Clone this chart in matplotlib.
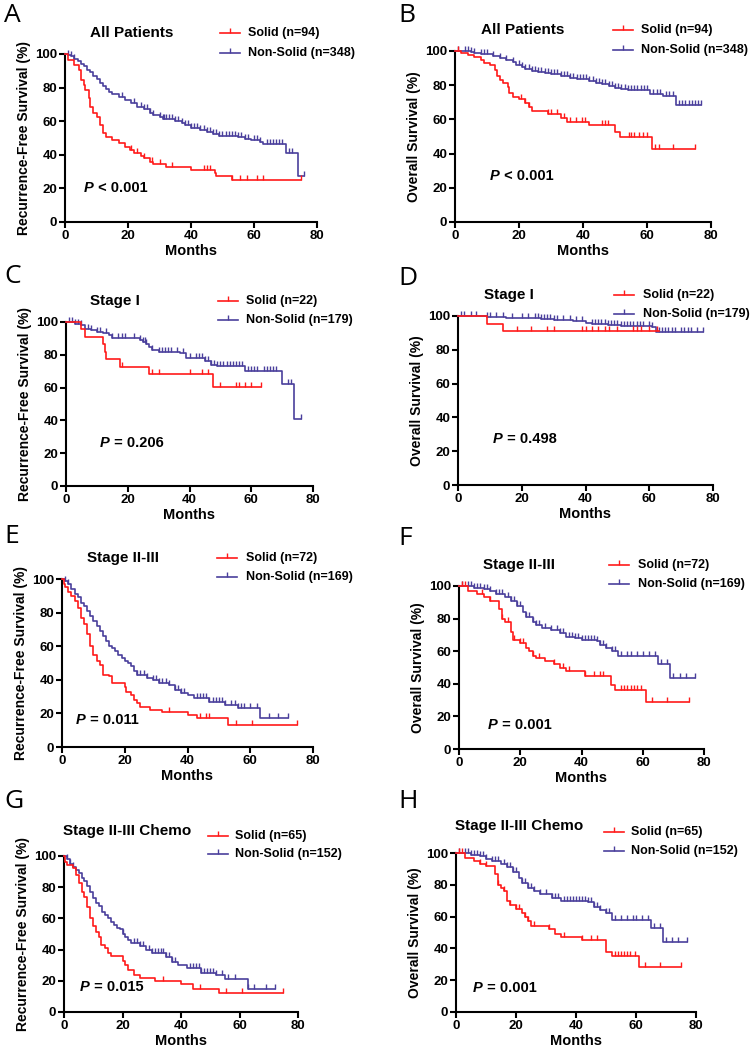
import matplotlib

matplotlib.use("Agg")
import matplotlib.pyplot as plt
import numpy as np
from matplotlib.lines import Line2D
from matplotlib.markers import TICKUP

W, H = 753, 1052
RED = "#ff1a1a"
BLUE = "#4a3f9c"

plt.rcParams["font.family"] = ["Liberation Sans", "DejaVu Sans"]
plt.rcParams["font.weight"] = "bold"
plt.rcParams["axes.labelweight"] = "bold"

# ---- data: (step times, survival %, censor times) ----
A_solid_t = [0, 1, 3, 4.5, 5, 6, 6.5, 7.5, 8, 9, 10, 11, 12, 13, 15, 17, 19, 20.5, 22, 24, 25, 27, 28, 32, 40, 47.5, 48, 53, 75]
A_solid_s = [100, 96.6, 93.6, 90.6, 84.7, 81.7, 78.7, 73.7, 68.7, 64.7, 62.7, 57.8, 52.8, 50.8, 48.8, 47.2, 44.8, 42.8, 41.2, 39.2, 37.8, 35.9, 34.5, 32.9, 30.9, 28.9, 27.5, 24.9, 24.9]
A_solid_c = [21, 22.8, 25, 27.5, 30, 34, 44, 45, 46, 53, 55.6, 57.7, 61, 63, 75]
A_non_t = [0, 1, 2, 3, 4, 5, 6, 7, 8, 9, 10, 11, 12, 13, 14, 15, 17, 19, 21, 23, 25, 27, 28, 30, 31, 35, 37, 38, 40, 43, 45, 47, 49, 55, 57, 59, 62, 63, 70, 74, 76]
A_non_s = [100, 99.3, 98.6, 97, 95.6, 94.2, 92.6, 90.6, 89, 87, 85, 83, 81, 79, 77.5, 76, 74.3, 72.7, 70.7, 68.7, 67.1, 65.1, 63.7, 62.4, 61.4, 60.4, 59.2, 57.8, 55.8, 54.8, 53.8, 52.4, 51.2, 50.4, 49.2, 48.8, 47.8, 46.4, 41.2, 27.3, 27.3]
A_non_c = [1, 2, 3, 18, 22, 24, 25, 26, 27, 28, 30, 31, 31.5, 32, 33, 34, 35, 36, 37, 38, 39, 40, 41, 42, 43, 44, 45,
           46, 47, 48, 49, 50, 51, 52, 53, 54, 55, 56, 57, 58, 60, 61, 62, 64, 65, 66, 67, 68, 69, 71, 72, 76]

B_solid_t = [0, 2, 4, 6, 8, 9, 11, 12.5, 13, 14, 15, 16.5, 17, 18, 20, 22, 23, 24, 29, 33, 35, 42, 50, 51.5, 61.5, 75]
B_solid_s = [100, 99, 97.7, 96.3, 94.7, 93.2, 91.8, 88.9, 85.4, 83, 81, 78.7, 75.2, 73.2, 71.7, 69.3, 67, 65, 63.1, 61.1, 58.6, 56.6, 52.7, 49.8, 42.6, 42.6]
B_solid_c = [1, 20.5, 22, 23, 29, 30, 32, 34, 36, 37.7, 39.8, 40.7, 46, 47, 47.7, 54.4, 55, 56, 57.5, 58.6, 60, 62.6, 63.6, 68, 75]
B_non_t = [0, 5, 6, 8, 10, 12, 14, 16, 18, 19, 21, 22, 24, 26, 28, 30, 33, 36, 38, 42, 44, 46, 48, 50, 52, 54, 61, 65, 69, 77]
B_non_s = [100, 99.5, 99, 98.5, 98, 97, 96, 95, 93.5, 92, 90.5, 89.5, 88.5, 87.5, 87, 86.5, 85.5, 84.5, 83.5, 82.5, 81.5, 80.5, 79.5, 78.5, 77.5, 77, 75, 73.5, 68.6, 68.6]
B_non_c = [1, 3, 4, 5, 6, 8, 9, 10, 12, 14, 16, 18, 20, 21, 22, 23, 24, 25, 26, 27, 28, 29, 30, 31, 32, 33, 34, 35, 36, 37,
           38, 39, 40, 41, 42, 43, 44, 45, 46, 47, 48, 49, 50, 51, 52, 53, 54, 55, 56, 57, 58, 59, 60, 62, 63, 64, 66, 67,
           68, 70, 71, 72, 73, 74, 75, 76, 77]

C_solid_t = [0, 5, 6, 12, 12.5, 13, 17.5, 27, 47.5, 63]
C_solid_s = [100, 95.5, 91, 86.4, 81.8, 77.3, 72.7, 68.2, 60.6, 60.6]
C_solid_c = [18, 28, 30, 40, 44, 46, 50, 55, 56, 58, 60, 63]
C_non_t = [0, 3, 5, 6, 8, 10, 12, 14, 15, 24, 25, 26, 27, 28, 30, 37, 39, 45, 47, 49, 58, 70, 74, 76]
C_non_s = [100, 99, 98, 96, 95, 94, 93, 92, 90, 89, 88, 86.5, 85, 83, 82, 81, 78, 76, 74, 73, 70, 62, 41, 41]
C_non_c = [1, 2, 3, 4, 5, 7, 8, 10, 11, 13, 15, 17, 18, 19, 22, 24, 25, 25.5, 26, 28, 30, 31, 32, 33, 34, 36, 38, 40,
           42, 43, 44, 45, 46, 47, 48, 49, 50, 51, 52, 53, 54, 55, 56, 57, 59, 60, 61, 62, 64, 65, 66, 67, 68, 72, 73, 76]

D_solid_t = [0, 9, 14, 63]
D_solid_s = [100, 95.5, 90.9, 90.9]
D_solid_c = [18.5, 23, 28, 30, 39, 40, 42, 44, 46, 47.5, 50, 55, 56, 57.5, 60, 62.5]
D_non_t = [0, 9, 15, 26, 30, 36, 40, 42, 47, 51, 61, 62, 77]
D_non_s = [100, 99.4, 98.8, 98.2, 97.5, 96.8, 96, 95.3, 94.6, 94, 93.2, 90.6, 90.6]
D_non_c = [1, 2, 4, 5.5, 9, 10, 12, 14, 17, 20, 22, 24, 25, 26, 27, 28, 29, 30, 31, 33, 35, 37, 39, 42, 43, 44, 45, 46,
           47, 48, 49, 50, 51, 52, 53, 54, 55, 56, 57, 58, 60, 61, 63, 64, 65, 66, 67, 68, 70, 71, 72, 73, 75, 77]

E_solid_t = [0, 0.5, 1, 2, 3, 4, 5, 6, 7, 8, 9, 10, 11, 12, 13, 15, 16, 20, 20.5, 22, 23, 24, 25, 28, 32, 40, 43, 53, 75]
E_solid_s = [100, 97, 95, 92, 90, 87, 83, 77, 73, 67, 60, 55, 51, 49, 43, 42, 38, 36, 33, 31, 28, 26, 24, 22, 21, 19, 17, 13, 13]
E_solid_c = [34, 44, 46, 47, 55.5, 60.5, 75]
E_non_t = [0, 1, 2, 3, 4, 5, 6, 7, 8, 9, 10, 11, 12, 13, 14, 15, 16, 17, 18, 19, 20, 21, 22, 23, 24, 27, 29, 31, 34, 36,
           38, 40, 42, 47, 52, 56, 63, 72]
E_non_s = [100, 99, 97, 94, 91, 89, 86, 84, 81, 78, 75, 72, 69, 66, 63, 60, 59, 57, 55, 53, 51, 50, 48, 45, 43, 41, 40,
           38, 37, 34, 32, 31, 29, 27, 25, 23, 17, 17]
E_non_c = [1, 2, 24, 25, 26, 27, 29, 30, 31, 32, 33, 34, 36, 37, 38, 39, 43, 44, 45, 46, 47, 48, 49, 50, 51, 52, 54, 55,
           56, 57, 58, 60, 62, 66, 69, 72]

F_solid_t = [0, 3, 6, 8, 10, 13, 14, 15, 17, 17.5, 20, 22, 23, 24, 25, 28, 31, 33, 35, 41, 49.5, 51, 61, 75]
F_solid_s = [100, 97, 95, 93, 91, 86, 80, 78, 72, 67, 65, 62, 60, 57, 56, 54, 52, 50, 48, 45, 39, 36, 29, 29]
F_solid_c = [1, 2, 7.5, 10, 14, 16, 18, 20, 21, 24, 26, 31, 34, 36, 41, 44, 46, 47, 53, 54, 55, 56, 57, 58, 59.5, 63, 68, 75]
F_non_t = [0, 5, 8, 10, 12, 15, 17, 19, 21, 22, 24, 25, 27, 30, 33, 35, 38, 40, 45, 46, 48, 50, 52, 65, 69, 77]
F_non_s = [100, 99, 98, 97, 95, 93, 91, 88, 84, 81, 78, 76, 74, 73, 71, 69, 68, 67, 66, 64, 62, 60, 57, 52, 43.5, 43.5]
F_non_c = [1, 3, 4, 5, 6, 7, 8, 9, 10, 12, 13, 14, 16, 17, 18, 19, 20, 22, 23, 24, 25, 26, 28, 30, 32, 33, 34, 36, 37,
           38, 39, 40, 41, 42, 43, 44, 45, 46, 47, 48, 50, 51, 53, 55, 56, 58, 60, 62, 64, 66, 68, 70, 72, 74, 77]

G_solid_t = [0, 0.5, 1, 3, 4, 5, 6, 7, 8, 9, 10, 11, 12, 12.5, 14, 15, 16, 20, 21, 22, 24, 26, 31, 40, 44, 53, 75]
G_solid_s = [100, 96, 94, 92, 88, 83, 77, 74, 67, 60, 55, 51, 48, 43, 41, 38, 36, 33, 30, 27, 24, 22, 20, 18, 15, 12, 12]
G_solid_c = [34, 46.5, 55.5, 61, 75]
G_non_t = [0, 1, 2, 3, 4, 5, 6, 7, 8, 9, 10, 11, 12, 13, 14, 15, 16, 17, 18, 19, 20, 21, 22, 23, 26, 28, 30, 35, 37, 39,
           42, 47, 52, 55, 63, 72]
G_non_s = [100, 98, 95, 93, 91, 89, 86, 84, 81, 77, 73, 70, 68, 64, 62, 60, 58, 56, 54, 53, 50, 48, 46, 44, 42, 40, 38,
           35, 32, 30, 28, 25, 24, 21, 15, 15]
G_non_c = [1, 2, 3, 20, 24, 25, 26, 27, 29, 30, 31, 32, 33, 34, 35, 36, 37, 38, 43, 44, 45, 46, 47, 48, 49, 50, 51, 52,
           54, 56, 58.5, 63, 65, 69, 72]

H_solid_t = [0, 3, 6, 8, 10, 13, 14, 15, 16, 17, 18, 20, 22, 23, 24, 25, 31, 33, 35, 42, 50, 52, 61, 75]
H_solid_s = [100, 97, 95, 93, 92, 87, 80, 78, 76, 70, 67, 65, 62, 60, 57, 54, 52, 49, 47, 45, 38, 35, 28, 28]
H_solid_c = [1, 2, 8, 10, 14, 16, 18, 20, 21, 23, 24, 26, 31, 36, 42, 45, 47, 53, 54, 55, 56, 57, 58, 59.5, 63, 68, 75]
H_non_t = [0, 5, 8, 10, 12, 15, 17, 19, 21, 22, 24, 26, 28, 32, 35, 44, 46, 48, 50, 52, 65, 69, 77]
H_non_s = [100, 99, 98, 96, 95, 93, 91, 88, 84, 81, 78, 76, 74, 72, 70, 69, 66, 64, 62, 58, 53, 44, 44]
H_non_c = [1, 3, 4, 5, 6, 7, 8, 9, 10, 12, 13, 14, 16, 17, 18, 19, 20, 22, 23, 24, 25, 26, 28, 30, 32, 33, 34, 36, 37,
           38, 39, 40, 41, 42, 43, 44, 45, 46, 47, 48, 50, 51, 53, 55, 57, 59, 60, 62, 64, 66, 68, 70, 72, 74, 77]

x_ticks = [0, 20, 40, 60, 80]
y_ticks = [0, 20, 40, 60, 80, 100]
letters = ["A", "B", "C", "D", "E", "F", "G", "H"]
titles = ["All Patients", "All Patients", "Stage I", "Stage I", "Stage II-III", "Stage II-III",
          "Stage II-III Chemo", "Stage II-III Chemo"]
ylabels = ["Recurrence-Free Survival (%)", "Overall Survival (%)"] * 4
n_solid = [94, 94, 22, 22, 72, 72, 65, 65]
n_non = [348, 348, 179, 179, 169, 169, 152, 152]
p_texts = ["< 0.001", "< 0.001", "= 0.206", "= 0.498", "= 0.011", "= 0.001", "= 0.015", "= 0.001"]
p_pos = [(6, 20), (11, 27), (11, 26), (11, 27), (4.5, 16), (9.5, 15), (5.5, 16), (5.7, 15)]

curves = [
    (A_solid_t, A_solid_s, A_solid_c, A_non_t, A_non_s, A_non_c),
    (B_solid_t, B_solid_s, B_solid_c, B_non_t, B_non_s, B_non_c),
    (C_solid_t, C_solid_s, C_solid_c, C_non_t, C_non_s, C_non_c),
    (D_solid_t, D_solid_s, D_solid_c, D_non_t, D_non_s, D_non_c),
    (E_solid_t, E_solid_s, E_solid_c, E_non_t, E_non_s, E_non_c),
    (F_solid_t, F_solid_s, F_solid_c, F_non_t, F_non_s, F_non_c),
    (G_solid_t, G_solid_s, G_solid_c, G_non_t, G_non_s, G_non_c),
    (H_solid_t, H_solid_s, H_solid_c, H_non_t, H_non_s, H_non_c),
]

# layout in pixels: axes (left, top, right, bottom), title centre, legend (x1, x2, text x, y1, y2), letter (x, top)
axes_px = [(65, 54, 317, 222), (455, 51, 711, 222), (66, 322, 313, 486), (458, 316, 713, 485),
           (62, 579, 313, 747), (459, 586, 704, 749), (64, 856, 298, 1012), (456, 853, 696, 1012)]
title_px = [(132, 33), (523, 30), (115, 301), (509, 295), (123, 558), (519, 565), (127, 831), (519, 826)]
legend_px = [(220, 240, 248, 33, 53), (613, 633, 641, 30, 50), (218, 238, 246, 301, 320),
             (614, 634, 643, 295, 314), (217, 237, 246, 558, 577), (609, 629, 638, 565, 584),
             (208, 228, 235, 836, 854), (604, 624, 631, 832, 851)]
letter_px = [(4, 3), (398, 3), (4, 264), (398, 266), (4, 524), (398, 526), (4, 789), (398, 789)]


def fx(x):
    return x / W


def fy(y):
    return 1 - y / H


def km_at(t, s, x):
    idx = np.searchsorted(t, x, side="right") - 1
    return np.asarray(s)[np.clip(idx, 0, len(s) - 1)]


def draw_curve(ax, t, s, cens, color):
    ax.step(t, s, where="post", color=color, lw=1.2, clip_on=False, zorder=3)
    ax.plot(cens, km_at(t, s, cens), ls="none", marker=TICKUP, ms=3.5, mew=1.0,
            color=color, clip_on=False, zorder=3)


fig = plt.figure(figsize=(W / 100, H / 100), dpi=100)

for i in range(8):
    l, t, r, b = axes_px[i]
    ax = fig.add_axes([fx(l), fy(b), (r - l) / W, (b - t) / H])
    st, ss, sc, nt, ns, nc = curves[i]
    draw_curve(ax, nt, ns, nc, BLUE)
    draw_curve(ax, st, ss, sc, RED)

    ax.set_xlim(0, 80)
    ax.set_ylim(0, 100)
    ax.set_xticks(x_ticks, [str(v) for v in x_ticks], fontweight="bold", fontsize=9.5)
    ax.set_yticks(y_ticks, [str(v) for v in y_ticks], fontweight="bold", fontsize=9.5)
    for side in ["top", "right"]:
        ax.spines[side].set_visible(False)
    for side in ["left", "bottom"]:
        ax.spines[side].set_linewidth(1.5)
    ax.tick_params(direction="out", length=4, width=1.5, pad=1.5)
    ax.set_xlabel("Months", fontsize=10.5, labelpad=2)
    ax.set_ylabel(ylabels[i], fontsize=10, labelpad=3)

    px, py = p_pos[i]
    ptxt = ax.text(px, py, "P", fontsize=10.5, style="italic", va="center", ha="left")
    ax.annotate(" " + p_texts[i], xy=(1, 0.5), xycoords=ptxt, va="center", ha="left", fontsize=10.5)

    cx, cy = title_px[i]
    fig.text(fx(cx), fy(cy), titles[i], ha="center", va="center", fontsize=11)

    x1, x2, tx, y1, y2 = legend_px[i]
    for y, color, label in [(y1, RED, f"Solid (n={n_solid[i]})"), (y2, BLUE, f"Non-Solid (n={n_non[i]})")]:
        fig.add_artist(Line2D([fx(x1), fx(x2)], [fy(y), fy(y)], color=color, lw=1.2,
                              transform=fig.transFigure))
        fig.add_artist(Line2D([fx((x1 + x2) / 2)], [fy(y)], color=color, marker=TICKUP, ms=3.5,
                              mew=1.0, transform=fig.transFigure))
        fig.text(fx(tx), fy(y), label, ha="left", va="center", fontsize=9)

    lx, ly = letter_px[i]
    fig.text(fx(lx), fy(ly), letters[i], ha="left", va="top", fontsize=19,
             fontweight="normal", family=["Open Sans", "DejaVu Sans"])

fig.savefig("out.png", dpi=100)
plt.close(fig)
